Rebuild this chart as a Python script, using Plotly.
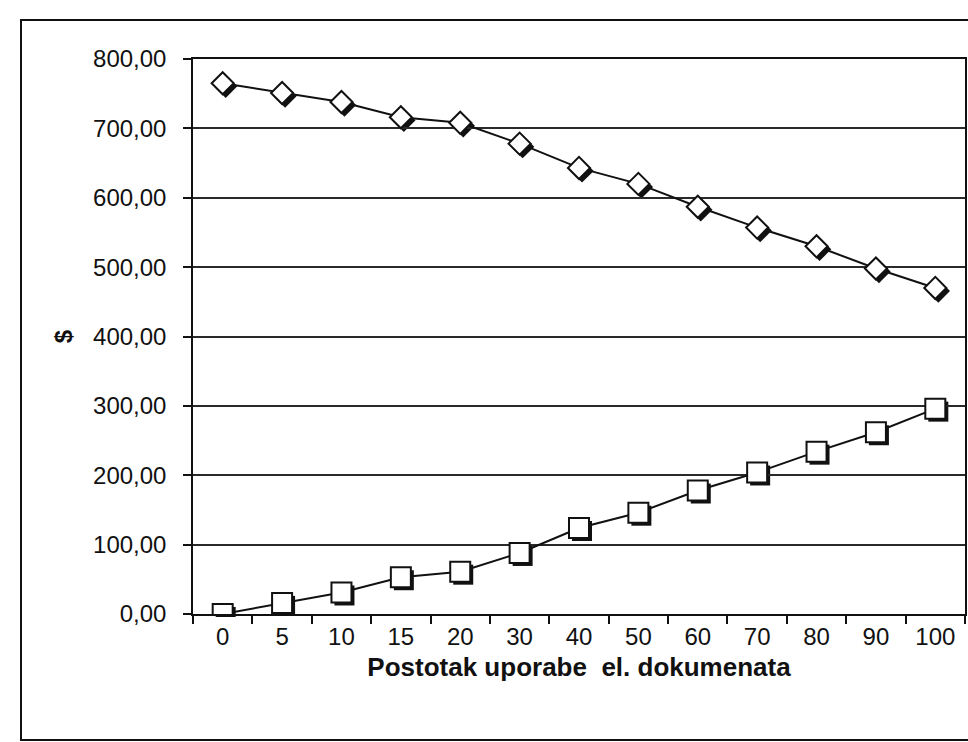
import plotly.graph_objects as go

# Share of electronic documents used (%) – category axis
categories = ["0", "5", "10", "15", "20", "30", "40", "50", "60", "70", "80", "90", "100"]

# Cost series ($)
diamond_vals = [765, 751, 738, 716, 708, 678, 643, 620, 587, 557, 530, 498, 470]
square_vals = [0, 16, 31, 53, 61, 88, 124, 146, 178, 204, 234, 262, 296]

y_ticks = [0, 100, 200, 300, 400, 500, 600, 700, 800]

W, H = 968, 742
ML, MR, MT, MB = 193, 0, 59, 125
PW = W - ML - MR          # plot-area width in px
PH = H - MT - MB          # plot-area height in px
SH = 3                    # marker shadow offset in px

FONT = "Arial, 'Liberation Sans', sans-serif"
INK = "#111111"


def px_x(px):
    return (px - ML) / PW


def px_y(py):
    return (H - MB - py) / PH


fig = go.Figure()

# drop shadows under the markers (own subplot, nudged right/down)
fig.add_trace(go.Scatter(
    x=categories, y=diamond_vals, mode="markers", xaxis="x", yaxis="y",
    marker=dict(symbol="diamond", size=18, color=INK, line=dict(width=0)),
    hoverinfo="skip", showlegend=False))
fig.add_trace(go.Scatter(
    x=categories, y=square_vals, mode="markers", xaxis="x", yaxis="y",
    marker=dict(symbol="square", size=20, color=INK, line=dict(width=0)),
    hoverinfo="skip", showlegend=False))

# main series
fig.add_trace(go.Scatter(
    x=categories, y=diamond_vals, mode="lines+markers", xaxis="x2", yaxis="y2",
    line=dict(color=INK, width=2),
    marker=dict(symbol="diamond", size=17, color="white", line=dict(color=INK, width=2)),
    showlegend=False))
fig.add_trace(go.Scatter(
    x=categories, y=square_vals, mode="lines+markers", xaxis="x2", yaxis="y2",
    line=dict(color=INK, width=2),
    marker=dict(symbol="square", size=20, color="white", line=dict(color=INK, width=2)),
    showlegend=False))

cat_range = [-0.5, len(categories) - 0.5]

fig.update_layout(
    width=W, height=H,
    margin=dict(l=ML, r=MR, t=MT, b=MB, pad=0),
    paper_bgcolor="white",
    plot_bgcolor="rgba(0,0,0,0)",
    separators=",.",
    font=dict(family=FONT, color=INK, size=24),
    showlegend=False,
    xaxis=dict(
        domain=[SH / PW, 1], anchor="y", type="category",
        categoryorder="array", categoryarray=categories,
        range=cat_range, visible=False),
    yaxis=dict(
        domain=[0, 1 - SH / PH], anchor="x", range=[0, 800], visible=False),
    xaxis2=dict(
        domain=[0, 1 - SH / PW], anchor="y2", type="category",
        categoryorder="array", categoryarray=categories, range=cat_range,
        tickson="boundaries", ticks="outside", ticklen=8, tickwidth=1.5,
        tickcolor=INK, showline=True, linecolor=INK, linewidth=1.5,
        mirror=True, showgrid=False, zeroline=False,
        tickfont=dict(family=FONT, size=24, color=INK),
        title=dict(text="<b>Postotak uporabe\u00a0 el. dokumenata</b>",
                   font=dict(family=FONT, size=26, color=INK), standoff=9)),
    yaxis2=dict(
        domain=[SH / PH, 1], anchor="x2", range=[0, 800],
        tickvals=y_ticks, tickformat=".2f",
        ticks="outside", ticklen=8, tickwidth=1.5, tickcolor=INK,
        ticklabelstandoff=12,
        showline=True, linecolor=INK, linewidth=1.5, mirror=True,
        showgrid=True, gridcolor="#2a2a2a", gridwidth=1.5, zeroline=False,
        tickfont=dict(family=FONT, size=24, color=INK),
        title=dict(text="<b>$</b>", font=dict(family=FONT, size=24, color=INK),
                   standoff=14)),
    shapes=[dict(
        type="rect", xref="paper", yref="paper",
        x0=px_x(21), x1=px_x(990), y0=px_y(740), y1=px_y(20),
        line=dict(color=INK, width=2), fillcolor="rgba(0,0,0,0)", layer="below")],
)

fig.write_html("out.html")
